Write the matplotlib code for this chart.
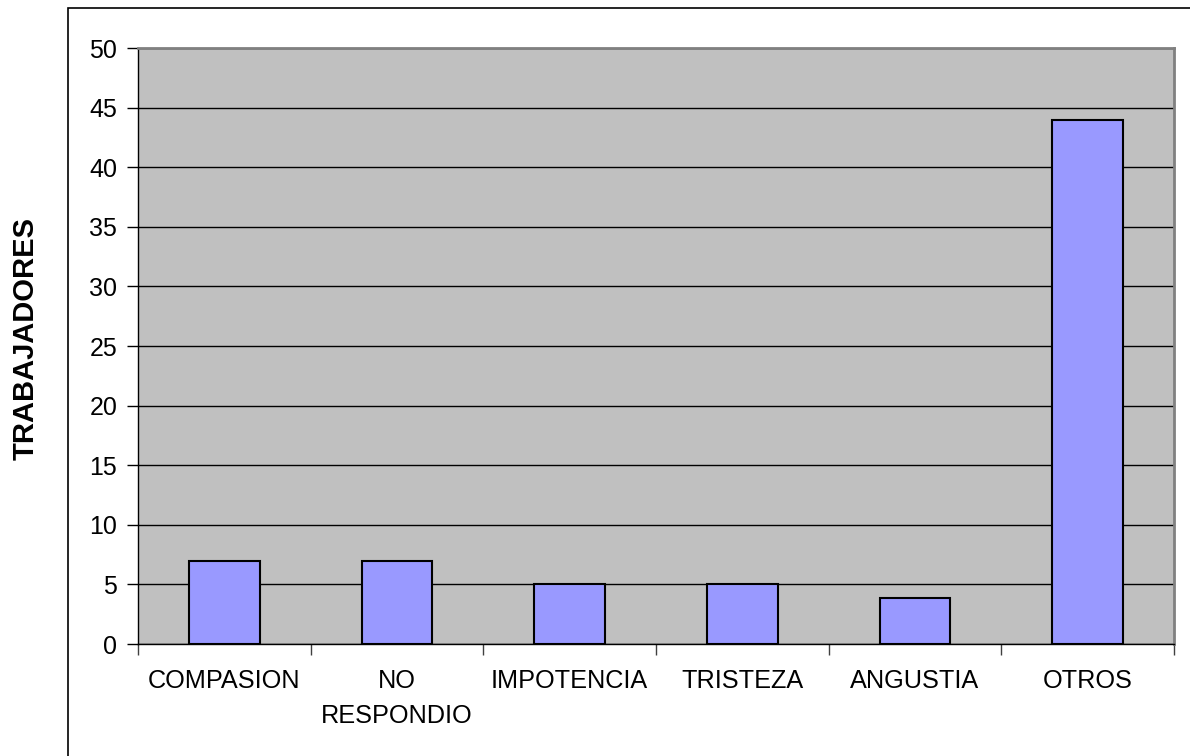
import matplotlib.pyplot as plt
from matplotlib.patches import Rectangle
import numpy as np

plt.rcParams['font.family'] = ['Liberation Sans', 'DejaVu Sans']

# Respuestas y numero de trabajadores
categorias = ["COMPASION", "NO\nRESPONDIO", "IMPOTENCIA", "TRISTEZA", "ANGUSTIA", "OTROS"]
trabajadores = [7, 7, 5, 5, 3.9, 44]
yticks = list(range(0, 51, 5))

fig = plt.figure(figsize=(11.9, 7.56), dpi=100)
ax = fig.add_axes([138 / 1190, 1 - 644 / 756, 1036 / 1190, 596 / 756])

x = np.arange(len(categorias))
ax.set_facecolor("#C0C0C0")
ax.bar(x, trabajadores, width=0.41, color="#9999FF", edgecolor="black",
       linewidth=1.5, zorder=3)

ax.set_xlim(-0.5, len(categorias) - 0.5)
ax.set_ylim(0, 50)
ax.set_yticks(yticks)
ax.yaxis.grid(True, color="black", linewidth=1.0, zorder=1)

# etiquetas centradas, marcas entre categorias
ax.set_xticks(x)
ax.set_xticklabels(categorias, fontsize=18.2, linespacing=1.6)
ax.set_xticks(np.arange(-0.5, len(categorias)), minor=True)
ax.tick_params(axis="x", which="major", length=0, pad=18)
ax.tick_params(axis="x", which="minor", length=8, width=1, color="#404040")
ax.tick_params(axis="y", length=8, width=1, pad=7, labelsize=18)

for s in ["top", "right"]:
    ax.spines[s].set_color("#808080")
    ax.spines[s].set_linewidth(2)
for s in ["left", "bottom"]:
    ax.spines[s].set_color("black")
    ax.spines[s].set_linewidth(1)

fig.text(26 / 1190, 1 - 338 / 756, "TRABAJADORES", rotation=90,
         ha="center", va="center", fontsize=21, fontweight="bold")

# marco exterior del grafico
fig.add_artist(Rectangle((68 / 1190, -0.2), 1.5, 1.2 - 8 / 756,
                         transform=fig.transFigure, fill=False,
                         edgecolor="black", linewidth=1.2))

fig.savefig("out.png", dpi=100)
